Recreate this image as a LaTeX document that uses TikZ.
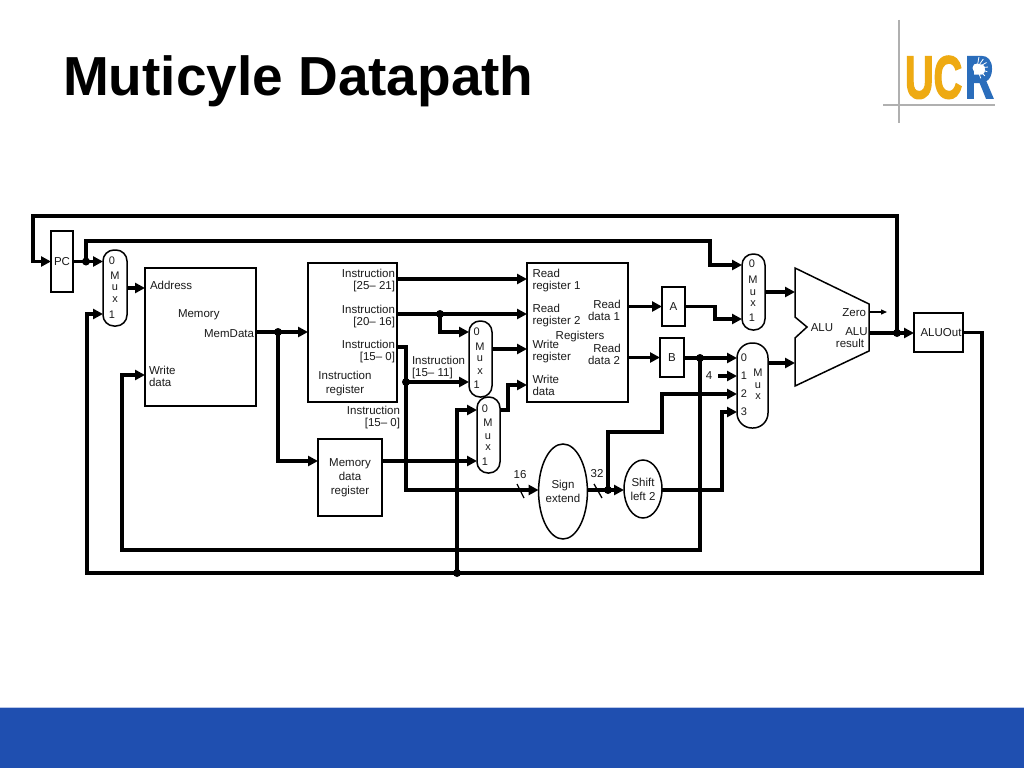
\documentclass[tikz,border=0pt]{standalone}
\usepackage{fontspec}
\setmainfont{Liberation Sans}
\newfontfamily\ucrfont[BoldFeatures={FakeBold=3}]{Liberation Sans}
\usetikzlibrary{arrows.meta,shapes.geometric,calc}
\definecolor{ink}{HTML}{1A1A1A}
\definecolor{footer}{HTML}{1F4FB0}
\definecolor{footeredge}{HTML}{B9C7E8}
\definecolor{ucrgold}{HTML}{EEAA12}
\definecolor{ucrblue}{HTML}{2A6DBB}
\definecolor{logoline}{HTML}{B0B0B0}
\tikzset{
  every node/.style={outer sep=0pt,text=ink},
  wire/.style={line width=3.4pt,draw=black},
  arr/.style={wire,-{Triangle[length=10pt,width=10pt]}},
  thin wire/.style={line width=1.3pt,draw=black},
  blk/.style={draw=black,line width=1.5pt,fill=white,inner sep=0pt,align=center,font=\fontsize{11.5}{14}\selectfont},
  mux/.style={blk,rounded corners=11pt},
  lbl/.style={inner sep=0pt,font=\fontsize{11.5}{12}\selectfont},
  muxl/.style={inner sep=0pt,font=\fontsize{11}{12}\selectfont},
  dot/.style={circle,fill=black,inner sep=0pt,minimum size=8pt},
}
\begin{document}
\begin{tikzpicture}[x=1pt,y=-1pt]
\useasboundingbox (0,0) rectangle (1024,768);
% slide furniture
\fill[white] (0,0) rectangle (1024,768);
\fill[footer] (0,708) rectangle (1024,768);
\fill[footeredge] (0,707) rectangle (1024,708);
\node[anchor=base west,inner sep=0pt,text=black,font=\fontsize{55}{60}\selectfont\bfseries] (title) at (63,95) {Muticyle Datapath};
\draw[logoline,line width=1.2pt] (899,20) -- (899,123);
\draw[logoline,line width=1.2pt] (883,105) -- (995,105);
\node[inner sep=0pt,anchor=base west,xscale=.66,text=ucrgold,font=\fontsize{60}{60}\selectfont\ucrfont\bfseries] (ucr1) at (905,98) {UC};
\node[inner sep=0pt,anchor=base west,xscale=.66,text=ucrblue,font=\fontsize{60}{60}\selectfont\ucrfont\bfseries] (ucr2) at (965,98) {R};
\fill[white] (977,68) circle (4.5pt);
\foreach \a in {-70,-45,-20,5,30,55,80}{\draw[white,line width=.8pt] (977,68) -- ++(\a:11pt);}

% blocks
\node[blk,minimum width=22pt,minimum height=61pt] (pc) at (62,261.5) {PC};
\node[blk,minimum width=111pt,minimum height=138pt] (mem) at (200.5,337) {};
\node[blk,minimum width=89pt,minimum height=139pt] (ir) at (352.5,332.5) {};
\node[blk,minimum width=64pt,minimum height=77pt] (mdr) at (350,477.5) {Memory\\data\\register};
\node[blk,minimum width=101pt,minimum height=139pt] (regs) at (577.5,332.5) {};
\node[blk,minimum width=23pt,minimum height=39pt] (a) at (673.5,306.5) {A};
\node[blk,minimum width=24pt,minimum height=39pt] (b) at (672,357.5) {B};
\node[blk,minimum width=49pt,minimum height=39pt] (aluout) at (938.5,332.5) {\hspace*{5pt}ALUOut};
\node[mux,minimum width=24pt,minimum height=76pt] (mux1) at (115,288) {};
\node[mux,minimum width=23pt,minimum height=76pt] (mux2) at (753.5,292) {};
\node[mux,minimum width=23pt,minimum height=76pt] (mux3) at (480.5,359) {};
\node[mux,minimum width=23pt,minimum height=76pt] (mux4) at (488.5,435) {};
\node[mux,rounded corners=15pt,minimum width=31pt,minimum height=85pt] (mux5) at (752.5,385.5) {};
\node[blk,ellipse,minimum width=44pt,minimum height=95pt] (sign) at (563,491.5) {Sign\\extend};
\node[blk,ellipse,minimum width=38pt,minimum height=58pt] (shift) at (643,489) {Shift\\left 2};
\draw[draw=black,line width=1.5pt,fill=white] (795,268) -- (869,304) -- (869,351) -- (795,386) -- (795,338) -- (807,327) -- (795,317) -- cycle;
\coordinate (aluA) at (795,292);
\coordinate (aluB) at (795,363);
\coordinate (aluZ) at (869,312);
\coordinate (aluR) at (869,333);

% junctions and bends
\coordinate (tl) at (33,216);
\coordinate (jalu) at (897,333);
\coordinate (jpc) at (86,261.5);
\coordinate (topb) at (710,241);
\coordinate (br) at (982,573);
\coordinate (bl) at (87,573);
\coordinate (jmem) at (278,332);
\coordinate (j20) at (440,314);
\coordinate (j15) at (406,382);
\coordinate (jbot) at (457,573);
\coordinate (jb) at (700,358);
\coordinate (j32) at (608,490);
\coordinate (wl) at (122,550);

% connectors
\draw[arr] (jalu) |- (tl) |- (pc.west);
\draw[arr] (pc.east) -- (mux1.west |- pc.east);
\draw[arr] (jpc) |- (topb) |- (mux2.west |- 0,265);
\draw[arr] (mux1.east) -- (mem.west |- mux1.east);
\draw[arr] (aluout.east) -| (br) -- (bl) |- (mux1.west |- 0,314);
\draw[arr] (jb) |- (wl) |- (mem.west |- 0,375);
\draw[arr] (mem.east |- jmem) -- (ir.west |- jmem);
\draw[arr] (jmem) |- (mdr.west |- 0,461);
\draw[arr] (ir.east |- 0,279) -- (regs.west |- 0,279);
\draw[arr] (ir.east |- j20) -- (regs.west |- j20);
\draw[arr] (j20) |- (mux3.west |- 0,332);
\draw[arr] (ir.east |- 0,347) -| (406,490) -- (sign.west |- 0,490);
\draw[arr] (j15) -- (mux3.west |- j15);
\draw[arr] (mux3.east |- 0,349) -- (regs.west |- 0,349);
\draw[arr] (mux4.east |- 0,410) -| (508,385) -- (regs.west |- 0,385);
\draw[arr] (jbot) |- (mux4.west |- 0,410);
\draw[arr] (mdr.east |- 0,461) -- (mux4.west |- 0,461);
\draw[arr] (regs.east |- a) -- (a.west);
\draw[arr] (regs.east |- b) -- (b.west);
\draw[arr] (a.east) -| (715,319) -- (mux2.west |- 0,319);
\draw[arr] (mux2.east) -- (aluA);
\draw[arr] (b.east |- jb) -- (mux5.west |- jb);
\draw[arr] (mux5.east |- aluB) -- (aluB);
\draw[arr] (j32) |- (662,432) |- (mux5.west |- 0,394);
\draw[wire] (sign.east |- j32) -- (j32);
\draw[arr] (j32) -- (shift.west |- j32);
\draw[arr] (shift.east |- j32) -| (722,412) -- (mux5.west |- 0,412);
\draw[arr] (aluR) -- (aluout.west |- aluR);
\draw[thin wire,-{Triangle[length=6pt,width=5pt]}] (aluZ) -- (887,312);
\node[lbl] (four) at (709,376) {4};
\coordinate (fourout) at (718,376);
\draw[arr] (fourout) -- (mux5.west |- fourout);
\coordinate (s16a) at (517,484);
\coordinate (s16b) at (524,498);
\coordinate (s32a) at (594,484);
\coordinate (s32b) at (602,498);
\draw[thin wire] (s16a) -- (s16b);
\draw[thin wire] (s32a) -- (s32b);

% dots
\node[dot] (djalu) at (jalu) {};
\node[dot] (djpc) at (jpc) {};
\node[dot] (djmem) at (jmem) {};
\node[dot] (dj20) at (j20) {};
\node[dot] (dj15) at (j15) {};
\node[dot] (djbot) at (jbot) {};
\node[dot] (djb) at (jb) {};
\node[dot] (dj32) at (j32) {};

% labels
\node[lbl,anchor=west] (l1) at (150,285.5) {Address};
\node[lbl,anchor=west] (l2) at (178,315) {Memory};
\node[lbl,anchor=east] (l3) at (254,334) {MemData};
\node[lbl,anchor=west,align=left] (l4) at (149,376.5) {Write\\data};
\node[lbl,anchor=east,align=right] (l5) at (395,281) {Instruction\\{}[25– 21]};
\node[lbl,anchor=east,align=right] (l6) at (395,317) {Instruction\\{}[20– 16]};
\node[lbl,anchor=east,align=right] (l7) at (395,352) {Instruction\\{}[15– 0]};
\node[lbl,align=center,font=\fontsize{11.5}{14}\selectfont] (l8) at (345,384) {Instruction\\register};
\node[lbl,anchor=west,align=left] (l9) at (412,368) {Instruction\\{}[15– 11]};
\node[lbl,anchor=east,align=right] (l10) at (400,418) {Instruction\\{}[15– 0]};
\node[lbl,anchor=west,align=left] (r1) at (532.5,281) {Read\\register 1};
\node[lbl,anchor=west,align=left] (r2) at (532.5,316) {Read\\register 2};
\node[lbl,anchor=west,align=left] (r3) at (532.5,352) {Write\\register};
\node[lbl,anchor=west,align=left] (r4) at (532.5,385) {Write\\data};
\node[lbl,align=center] (r5) at (604,310) {\hspace*{6pt}Read\\data 1};
\node[lbl,align=center] (r6) at (604,354) {\hspace*{6pt}Read\\data 2};
\node[lbl] (r7) at (580,336.5) {Registers};
\node[lbl] (alu) at (822,327.5) {ALU};
\node[lbl,anchor=east] (zero) at (866,313) {Zero};
\node[lbl,align=center] (res) at (850,338) {\hspace*{13pt}ALU\\result};
\node[lbl] (n16) at (520,475) {16};
\node[lbl] (n32) at (597,474) {32};
% mux letters
\foreach \n/\x/\y/\t in {a0/112/261/0,a1/115/276/M,a2/115/288/u,a3/115/300/x,a4/112/314.5/1,
 b0/752/264/0,b1/753/280/M,b2/753/292.5/u,b3/753/304/x,b4/752/318/1,
 c0/476.7/331.7/0,c1/480/347/M,c2/480/359/u,c3/480/372/x,c4/476.7/385/1,
 d0/485/409/0,d1/488/423/M,d2/488/437/u,d3/488/448/x,d4/485/462/1,
 e0/744/358/0,e1/744/376/1,e2/744/394/2,e3/744/412/3,e4/758/373/M,e5/758/386/u,e6/758/397/x}
 {\node[muxl] (m\n) at (\x,\y) {\t};}
\end{tikzpicture}
\end{document}
